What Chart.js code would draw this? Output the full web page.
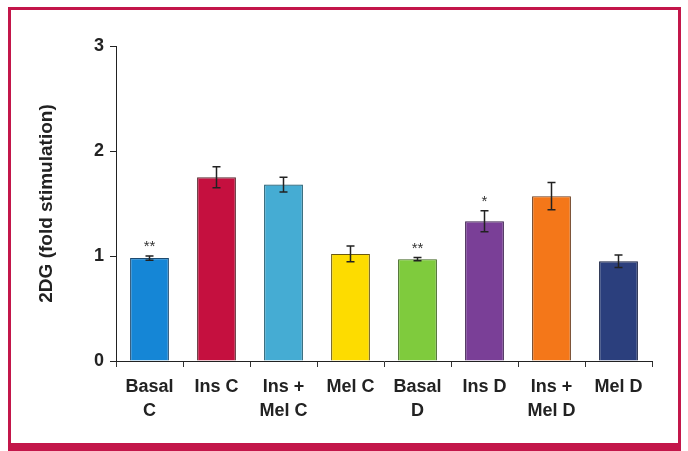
<!DOCTYPE html>
<html>
<head>
<meta charset="utf-8">
<script src="https://cdn.jsdelivr.net/npm/chart.js@4.4.1/dist/chart.umd.min.js"></script>
<style>
  html, body { margin: 0; padding: 0; background: #fff; width: 688px; height: 451px; overflow: hidden; }
  #marco {
    position: absolute; left: 8px; top: 7px; width: 673px; height: 444px;
    box-sizing: border-box; border: 3px solid #c3164a; border-bottom-width: 8px;
  }
  #grafico { position: absolute; left: 0; top: 0; }
</style>
</head>
<body>
<div id="marco"></div>
<canvas id="grafico" width="688" height="451"></canvas>
<script>
const categorias = [["Basal", "C"], ["Ins C"], ["Ins +", "Mel C"], ["Mel C"], ["Basal", "D"], ["Ins D"], ["Ins +", "Mel D"], ["Mel D"]];
const valores = [0.98, 1.75, 1.68, 1.02, 0.97, 1.33, 1.57, 0.95];
const errores = [0.02, 0.10, 0.07, 0.075, 0.015, 0.10, 0.13, 0.06];
const asteriscos = ["**", "", "", "", "**", "*", "", ""];
const colores = ["#1586d6", "#c5103f", "#45acd3", "#fddc00", "#7fcb3d", "#7a3f97", "#f47719", "#2b3f7d"];
const bordes = ["#1c4a70", "#5a2a30", "#1f5a6e", "#6b5a10", "#3f6420", "#3d2050", "#6a3a1a", "#151f40"];
const ticksY = [0, 1, 2, 3];

const fuente = "'Liberation Sans', Arial, sans-serif";

const barrasError = {
  id: "barrasError",
  afterDatasetsDraw(chart) {
    const ctx = chart.ctx;
    const meta = chart.getDatasetMeta(0);
    const y = chart.scales.y;
    ctx.save();
    ctx.strokeStyle = "#222";
    ctx.lineWidth = 1.5;
    meta.data.forEach((barra, i) => {
      const x = barra.x;
      const arriba = y.getPixelForValue(valores[i] + errores[i]);
      const abajo = y.getPixelForValue(valores[i] - errores[i]);
      ctx.beginPath();
      ctx.moveTo(x, arriba); ctx.lineTo(x, abajo);
      ctx.moveTo(x - 4, arriba); ctx.lineTo(x + 4, arriba);
      ctx.moveTo(x - 4, abajo); ctx.lineTo(x + 4, abajo);
      ctx.stroke();
      if (asteriscos[i]) {
        ctx.fillStyle = "#333";
        ctx.font = "15px " + fuente;
        ctx.textAlign = "center";
        ctx.textBaseline = "middle";
        ctx.fillText(asteriscos[i], x, arriba - 9);
      }
    });
    // el eje x asoma un poco a la izquierda del eje y
    const xs = chart.scales.x;
    ctx.beginPath();
    ctx.strokeStyle = "#222";
    ctx.lineWidth = 1;
    ctx.moveTo(xs.left - 6, xs.top + 0.5);
    ctx.lineTo(xs.left, xs.top + 0.5);
    ctx.stroke();
    ctx.restore();
  }
};

const ctx = document.getElementById("grafico").getContext("2d");
const grafico = new Chart(ctx, {
  type: "bar",
  data: {
    labels: categorias,
    datasets: [{
      data: valores,
      backgroundColor: colores,
      borderColor: bordes,
      borderWidth: 1.2,
      barPercentage: 0.58,
      categoryPercentage: 1
    }]
  },
  options: {
    responsive: false,
    animation: false,
    devicePixelRatio: 1,
    layout: { padding: { left: 35, top: 46, right: 36, bottom: 0 } },
    plugins: { legend: { display: false }, tooltip: { enabled: false } },
    scales: {
      x: {
        afterFit: (s) => { s.height = 90; },
        grid: { offset: true, drawOnChartArea: false, tickLength: 6, color: "#333" },
        border: { display: true, color: "#222", width: 1 },
        ticks: {
          color: "#222",
          padding: 9,
          maxRotation: 0,
          autoSkip: false,
          font: { family: fuente, size: 18, weight: "bold", lineHeight: 1.28 }
        }
      },
      y: {
        min: 0,
        max: 3,
        afterFit: (s) => { s.width = 81; },
        afterBuildTicks: (s) => { s.ticks = ticksY.map(v => ({ value: v })); },
        grid: { drawOnChartArea: false, tickLength: 6, color: "#222" },
        border: { display: true, color: "#222", width: 1 },
        ticks: {
          color: "#222",
          padding: 6,
          font: { family: fuente, size: 18, weight: "bold" }
        },
        title: {
          display: true,
          text: "2DG (fold stimulation)",
          color: "#222",
          font: { family: fuente, size: 19, weight: "bold" },
          padding: { top: 0, bottom: 0 }
        }
      }
    }
  },
  plugins: [barrasError]
});
</script>
</body>
</html>
